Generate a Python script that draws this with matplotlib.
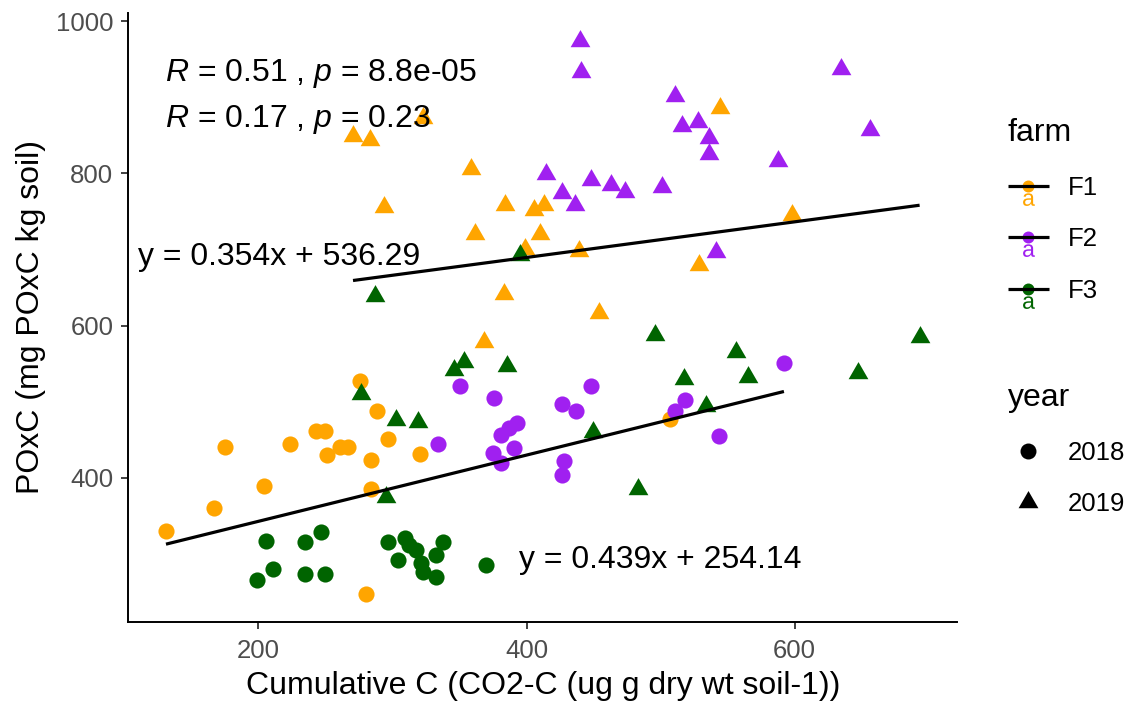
import numpy as np
import matplotlib
matplotlib.use("Agg")
import matplotlib.pyplot as plt
from matplotlib.lines import Line2D
from matplotlib.path import Path
from matplotlib.textpath import TextPath
from matplotlib.font_manager import FontProperties
from matplotlib.legend_handler import HandlerTuple

plt.rcParams["font.family"] = ["Liberation Sans", "DejaVu Sans"]
plt.rcParams["mathtext.fontset"] = "custom"
plt.rcParams["mathtext.rm"] = "Liberation Sans"
plt.rcParams["mathtext.it"] = "Liberation Sans:italic"

# ---- data: cumulative C (x) and POxC (y) by farm and year ----
f1_2018_x = [131.1, 167.0, 204.2, 175.2, 223.5, 242.8, 249.5, 251.3, 260.7,
             266.9, 275.5, 288.5, 296.7, 283.7, 320.9, 283.7, 280.5, 507.3]
f1_2018_y = [329.7, 360.4, 389.9, 440.9, 444.0, 461.6, 461.6, 429.9, 440.9,
             440.9, 527.5, 487.9, 450.6, 424.2, 432.1, 385.5, 247.5, 477.0]

f2_2018_x = [333.8, 350.5, 376.0, 380.9, 387.0, 393.0, 374.7, 390.8, 380.9,
             426.8, 436.7, 447.8, 428.0, 426.8, 518.4, 511.0, 543.9, 592.0]
f2_2018_y = [444.0, 521.0, 504.5, 457.0, 466.0, 472.5, 433.0, 439.5, 420.0,
             497.0, 488.0, 521.0, 422.0, 404.5, 502.0, 488.0, 455.0, 551.0]

f3_2018_x = [205.4, 234.6, 246.5, 210.6, 199.3, 234.6, 249.5, 296.7, 309.0,
             312.7, 304.1, 317.7, 321.4, 322.7, 332.6, 332.6, 337.5, 369.7]
f3_2018_y = [317.4, 315.6, 328.8, 280.0, 265.5, 273.9, 273.9, 316.5, 320.8,
             312.1, 292.4, 305.5, 287.9, 276.9, 270.3, 298.9, 316.5, 285.8]

f1_2019_x = [270.6, 283.6, 322.5, 358.5, 293.6, 383.9, 405.7, 413.1, 361.4,
             410.0, 398.7, 383.4, 368.5, 544.4, 598.2, 439.1, 528.3, 453.9]
f1_2019_y = [849.7, 843.7, 873.0, 806.1, 755.4, 757.9, 752.0, 757.9, 720.0,
             720.0, 700.2, 641.8, 578.0, 886.4, 745.5, 697.6, 679.1, 616.3]

f2_2019_x = [439.9, 440.9, 511.0, 516.0, 527.6, 535.8, 535.8, 634.4, 656.0,
             587.8, 448.3, 463.2, 473.8, 501.1, 435.9, 426.6, 414.6, 541.1]
f2_2019_y = [974.0, 933.5, 901.9, 862.5, 867.7, 846.5, 826.1, 936.8, 856.8,
             815.8, 792.0, 784.3, 775.4, 782.0, 757.9, 774.4, 799.0, 696.6]

f3_2019_x = [395.2, 287.2, 276.8, 346.2, 353.2, 385.4, 302.8, 319.0, 294.9,
             496.1, 556.3, 565.5, 517.7, 534.1, 449.8, 483.3, 647.3, 693.2]
f3_2019_y = [692.7, 639.2, 510.5, 541.5, 552.4, 547.0, 476.2, 473.0, 374.8,
             587.8, 565.2, 532.6, 529.9, 494.7, 459.8, 385.6, 538.1, 585.0]

farms = ["F1", "F2", "F3"]
years = ["2018", "2019"]
farm_colors = {"F1": "#FFA500", "F2": "#A020F0", "F3": "#006400"}

eq_2019 = "y = 0.354x + 536.29"
eq_2018 = "y = 0.439x + 254.14"

x_ticks = [200, 400, 600]
y_ticks = [400, 600, 800, 1000]
x_title = "Cumulative C (CO2-C (ug g dry wt soil-1))"
y_title = "POxC (mg POxC kg soil)"

groups = {
    ("F1", "2018"): (f1_2018_x, f1_2018_y),
    ("F2", "2018"): (f2_2018_x, f2_2018_y),
    ("F3", "2018"): (f3_2018_x, f3_2018_y),
    ("F1", "2019"): (f1_2019_x, f1_2019_y),
    ("F2", "2019"): (f2_2019_x, f2_2019_y),
    ("F3", "2019"): (f3_2019_x, f3_2019_y),
}

# equilateral triangle centred on its centroid (like R's pch 17)
tri = [(0.0, 1.0), (-0.8660, -0.5), (0.8660, -0.5), (0.0, 1.0)]
year_markers = {"2018": "o", "2019": tri}
year_sizes = {"2018": 135, "2019": 270}

fig = plt.figure(figsize=(11.36, 7.06), dpi=100)
ax = fig.add_axes([0.11294, 0.11941, 0.72975, 0.86176])

for f in farms:
    for yr in years:
        xs, ys = groups[(f, yr)]
        ax.scatter(xs, ys, s=year_sizes[yr], marker=year_markers[yr],
                   color=farm_colors[f], linewidths=0, zorder=2)

# linear fit per year, drawn over the range of that year's data
for yr in years:
    xs = np.concatenate([groups[(f, yr)][0] for f in farms])
    ys = np.concatenate([groups[(f, yr)][1] for f in farms])
    slope, icpt = np.polyfit(xs, ys, 1)
    xx = np.array([xs.min(), xs.max()])
    ax.plot(xx, slope * xx + icpt, color="black", lw=2.3,
            solid_capstyle="butt", zorder=3)

# axis limits with a 5% margin around the data
all_x = np.concatenate([g[0] for g in groups.values()])
all_y = np.concatenate([g[1] for g in groups.values()])
dx = 0.05 * (all_x.max() - all_x.min())
dy = 0.05 * (all_y.max() - all_y.min())
ax.set_xlim(all_x.min() - dx, all_x.max() + dx)
ax.set_ylim(all_y.min() - dy, all_y.max() + dy)

txt_size = 23
ax.text(130.0, 921.8, r"$\mathit{R}$ = 0.51 , $\mathit{p}$ = 8.8e-05",
        fontsize=txt_size, ha="left", va="baseline", zorder=4)
ax.text(130.0, 861.5, r"$\mathit{R}$ = 0.17 , $\mathit{p}$ = 0.23",
        fontsize=txt_size, ha="left", va="baseline", zorder=4)
ax.text(110.0, 679.2, eq_2019, fontsize=txt_size, ha="left",
        va="baseline", zorder=4)
ax.text(394.5, 281.3, eq_2018, fontsize=txt_size, ha="left",
        va="baseline", zorder=4)

# classic theme: only left and bottom axis lines
for side in ["top", "right"]:
    ax.spines[side].set_visible(False)
for side in ["left", "bottom"]:
    ax.spines[side].set_linewidth(1.4)
    ax.spines[side].set_color("black")
ax.set_xticks(x_ticks)
ax.set_yticks(y_ticks)
ax.tick_params(axis="both", length=4.8, width=1.3, color="#333333",
               labelcolor="#4D4D4D", labelsize=18.5)
ax.tick_params(axis="x", pad=8)
ax.tick_params(axis="y", pad=6)
ax.set_xlabel(x_title, fontsize=23, labelpad=5.5)
ax.set_ylabel(y_title, fontsize=23, labelpad=7)

# legend keys: line + point + letter, like a combined smooth/point/text key
fp = FontProperties(family="Liberation Sans")
tp = TextPath((0, 0), "a", size=1, prop=fp)
v = tp.vertices.copy()
x0, y0 = v.min(axis=0)
x1, y1 = v.max(axis=0)
h = y1 - y0
v[:, 0] = (v[:, 0] - (x0 + x1) / 2) / h * 0.65
v[:, 1] = (v[:, 1] - y1) / h * 0.65 - 0.35
a_marker = Path(v, tp.codes)

farm_handles = []
for f in farms:
    pt = Line2D([], [], ls="none", marker="o", markersize=8.6,
                markerfacecolor=farm_colors[f], markeredgewidth=0)
    ln = Line2D([], [], color="black", lw=2.3, solid_capstyle="butt")
    lt = Line2D([], [], ls="none", marker=a_marker, markersize=28,
                markerfacecolor=farm_colors[f], markeredgewidth=0)
    farm_handles.append((pt, ln, lt))

leg_kw = dict(loc="upper left", frameon=False, fontsize=18.5,
              title_fontsize=23, handlelength=1.6, handletextpad=0.75,
              labelspacing=1.08, borderpad=0, alignment="left")
leg1 = fig.legend(farm_handles, farms, title="farm",
                  handler_map={tuple: HandlerTuple(ndivide=1, pad=0)},
                  bbox_to_anchor=(995 / 1136, 1 - 105 / 706), **leg_kw)

year_handles = [
    Line2D([], [], ls="none", marker="o", markersize=11.5,
           markerfacecolor="black", markeredgewidth=0),
    Line2D([], [], ls="none", marker=tri, markersize=16.5,
           markerfacecolor="black", markeredgewidth=0),
]
leg2 = fig.legend(year_handles, years, title="year",
                  bbox_to_anchor=(995 / 1136, 1 - 370 / 706), **leg_kw)

fig.savefig("out.png", dpi=100)
